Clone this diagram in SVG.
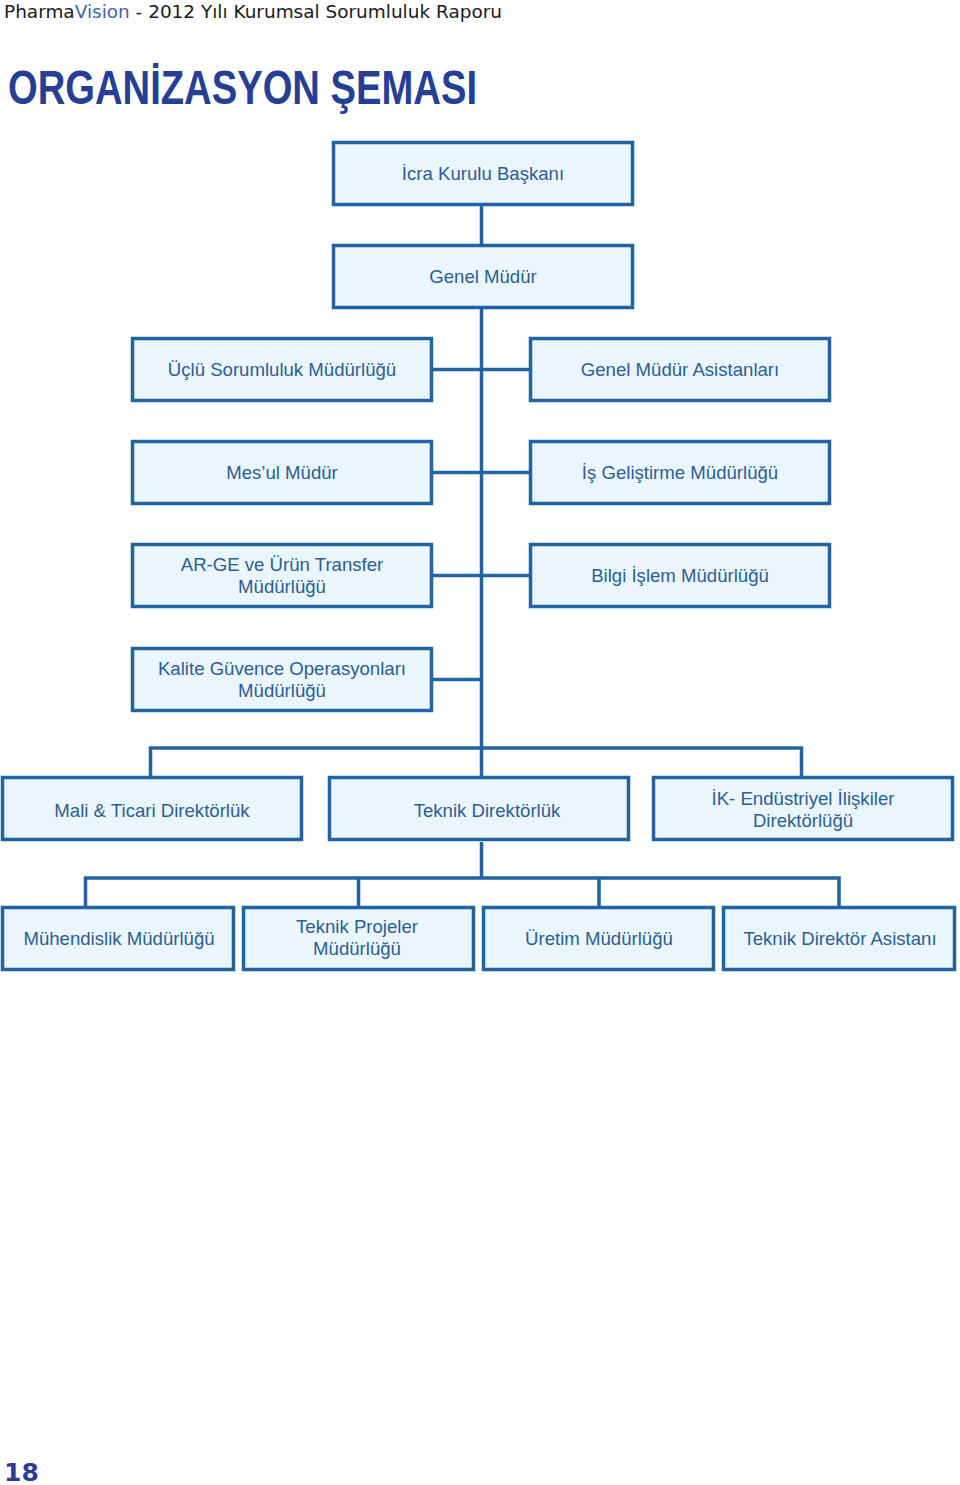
<svg xmlns="http://www.w3.org/2000/svg" width="960" height="1485" viewBox="0 0 960 1485">
<style>
.box{fill:#ebf5fc;stroke:#2163a3;stroke-width:3.5}
.lbl{font-family:"Liberation Sans",Arial,sans-serif;font-size:18.6px;fill:#2a5f96;text-anchor:middle}
.con{fill:none;stroke:#2163a3;stroke-width:3.5}
</style>
<rect width="960" height="1485" fill="#ffffff"/>
<text x="4" y="18" font-family="DejaVu Sans,Verdana,sans-serif" font-size="18" fill="#1a1a1a" textLength="498" lengthAdjust="spacingAndGlyphs">Pharma<tspan fill="#3b67ad">Vision</tspan> - 2012 Yılı Kurumsal Sorumluluk Raporu</text>
<text x="8" y="104" font-family="Liberation Sans,Arial,sans-serif" font-weight="bold" font-size="48" fill="#263f94" textLength="469" lengthAdjust="spacingAndGlyphs">ORGANİZASYON ŞEMASI</text>
<g id="connectors">
<path class="con" d="M481.5 206V748M433 369.5H529M433 472.5H529M433 575.5H529M433 679.5H481.5"/>
<path class="con" d="M150.5 777V748H801.5V777M481.5 748V777"/>
<path class="con" d="M481.5 842V878M85.5 907V878H839V907M358.5 878V907M599 878V907"/>
</g>
<g id="n1"><rect class="box" x="333.5" y="142.5" width="299" height="62"/><text class="lbl" x="483" y="180">İcra Kurulu Başkanı</text></g>
<g id="n2"><rect class="box" x="333.5" y="245.5" width="299" height="62"/><text class="lbl" x="483" y="283">Genel Müdür</text></g>
<g id="n3"><rect class="box" x="132.5" y="338.5" width="299" height="62"/><text class="lbl" x="282" y="376">Üçlü Sorumluluk Müdürlüğü</text></g>
<g id="n4"><rect class="box" x="530.5" y="338.5" width="299" height="62"/><text class="lbl" x="680" y="376">Genel Müdür Asistanları</text></g>
<g id="n5"><rect class="box" x="132.5" y="441.5" width="299" height="62"/><text class="lbl" x="282" y="479">Mes’ul Müdür</text></g>
<g id="n6"><rect class="box" x="530.5" y="441.5" width="299" height="62"/><text class="lbl" x="680" y="479">İş Geliştirme Müdürlüğü</text></g>
<g id="n7"><rect class="box" x="132.5" y="544.5" width="299" height="62"/><text class="lbl" x="282" y="571">AR-GE ve Ürün Transfer</text><text class="lbl" x="282" y="593">Müdürlüğü</text></g>
<g id="n8"><rect class="box" x="530.5" y="544.5" width="299" height="62"/><text class="lbl" x="680" y="582">Bilgi İşlem Müdürlüğü</text></g>
<g id="n9"><rect class="box" x="132.5" y="648.5" width="299" height="62"/><text class="lbl" x="282" y="675">Kalite Güvence Operasyonları</text><text class="lbl" x="282" y="697">Müdürlüğü</text></g>
<g id="n10"><rect class="box" x="2.5" y="777.5" width="299" height="62"/><text class="lbl" x="152" y="817">Mali &amp; Ticari Direktörlük</text></g>
<g id="n11"><rect class="box" x="329.5" y="777.5" width="299" height="62"/><text class="lbl" x="487" y="817">Teknik Direktörlük</text></g>
<g id="n12"><rect class="box" x="653.5" y="777.5" width="299" height="62"/><text class="lbl" x="803" y="805">İK- Endüstriyel İlişkiler</text><text class="lbl" x="803" y="827">Direktörlüğü</text></g>
<g id="n13"><rect class="box" x="2.5" y="907.5" width="231" height="62"/><text class="lbl" x="119" y="945">Mühendislik Müdürlüğü</text></g>
<g id="n14"><rect class="box" x="243.5" y="907.5" width="230" height="62"/><text class="lbl" x="357" y="933">Teknik Projeler</text><text class="lbl" x="357" y="955">Müdürlüğü</text></g>
<g id="n15"><rect class="box" x="483.5" y="907.5" width="230" height="62"/><text class="lbl" x="599" y="945">Üretim Müdürlüğü</text></g>
<g id="n16"><rect class="box" x="723.5" y="907.5" width="231" height="62"/><text class="lbl" x="840" y="945">Teknik Direktör Asistanı</text></g>
<text x="4" y="1481" font-family="DejaVu Sans,Verdana,sans-serif" font-weight="bold" font-size="25" fill="#263f94">18</text>
</svg>
